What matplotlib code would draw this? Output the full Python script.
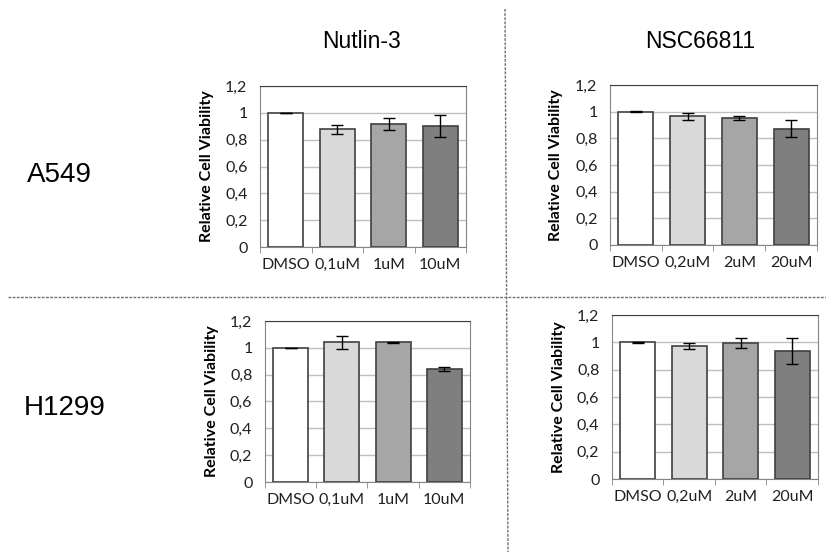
import numpy as np
import matplotlib
matplotlib.use('Agg')
from matplotlib import pyplot as plt
from matplotlib.ticker import FixedLocator, FuncFormatter
from matplotlib.lines import Line2D

# dados
labels_nutlin = ['DMSO', '0,1uM', '1uM', '10uM']
labels_nsc = ['DMSO', '0,2uM', '2uM', '20uM']

a549_nutlin = [1.0, 0.876, 0.915, 0.903]
a549_nutlin_err = [0.002, 0.034, 0.046, 0.083]
a549_nsc = [1.0, 0.965, 0.953, 0.873]
a549_nsc_err = [0.002, 0.027, 0.017, 0.067]

h1299_nutlin = [1.0, 1.04, 1.04, 0.843]
h1299_nutlin_err = [0.002, 0.046, 0.003, 0.012]
h1299_nsc = [1.0, 0.973, 0.995, 0.938]
h1299_nsc_err = [0.002, 0.02, 0.038, 0.093]

cores = ['#ffffff', '#d9d9d9', '#a6a6a6', '#7f7f7f']

plt.rcParams['font.family'] = ['Lato', 'DejaVu Sans']

fig = plt.figure(figsize=(8.26, 5.52), dpi=100)

posicoes = [
    [0.3148, 0.5525, 0.2494, 0.2917],
    [0.7385, 0.5562, 0.2506, 0.2899],
    [0.3208, 0.1268, 0.2482, 0.2917],
    [0.7409, 0.1322, 0.2494, 0.2971],
]
dados = [
    (a549_nutlin, a549_nutlin_err, labels_nutlin),
    (a549_nsc, a549_nsc_err, labels_nsc),
    (h1299_nutlin, h1299_nutlin_err, labels_nutlin),
    (h1299_nsc, h1299_nsc_err, labels_nsc),
]

def virgula(v, pos):
    return ('%g' % v).replace('.', ',')

for pos, (valores, erros, rotulos) in zip(posicoes, dados):
    ax = fig.add_axes(pos)
    x = np.arange(len(valores))
    ax.bar(x, valores, width=0.68, color=cores, edgecolor='#404040',
           linewidth=1.2, zorder=3)
    ax.errorbar(x, valores, yerr=erros, fmt='none', ecolor='black',
                elinewidth=1, capsize=4, capthick=1, zorder=4)
    ax.set_xlim(-0.5, len(valores) - 0.5)
    ax.set_ylim(0, 1.2)
    ax.set_yticks(np.arange(0, 1.21, 0.2))
    ax.yaxis.set_major_formatter(FuncFormatter(virgula))
    ax.yaxis.grid(True, color='#bfbfbf', linewidth=1, zorder=0)
    ax.set_axisbelow(True)
    ax.set_xticks(x)
    ax.set_xticklabels(rotulos)
    ax.xaxis.set_minor_locator(FixedLocator(np.arange(-0.5, len(valores), 1)))
    ax.tick_params(axis='x', which='major', length=0, pad=8, labelsize=11.5,
                   labelcolor='#202020')
    ax.tick_params(axis='x', which='minor', length=4, color='#868686', direction='out')
    ax.tick_params(axis='y', length=0, pad=9, labelsize=11.5, labelcolor='#202020')
    ax.set_ylabel('Relative Cell Viability', fontsize=11.5, fontweight='bold')
    ax.yaxis.set_label_coords(-0.225, 0.5)
    ax.spines['left'].set_color('#868686')
    ax.spines['bottom'].set_color('#868686')
    ax.spines['top'].set_color('#404040')
    ax.spines['right'].set_color('#868686')

# títulos
fig.text(362 / 826, 1 - 42 / 552, 'Nutlin-3', ha='center', va='center',
         fontsize=16.5, family='Liberation Sans')
fig.text(700 / 826, 1 - 42 / 552, 'NSC66811', ha='center', va='center',
         fontsize=16.5, family='Liberation Sans')
fig.text(59 / 826, 1 - 175 / 552, 'A549', ha='center', va='center',
         fontsize=20, family='Liberation Sans')
fig.text(65 / 826, 1 - 408 / 552, 'H1299', ha='center', va='center',
         fontsize=20, family='Liberation Sans')

# linhas divisórias tracejadas
fig.add_artist(Line2D([8 / 826, 1.0], [1 - 297 / 552, 1 - 297 / 552],
                      color='#707070', linewidth=1, linestyle=(0, (2, 1))))
fig.add_artist(Line2D([505 / 826, 508 / 826], [1 - 9 / 552, 0.0],
                      color='#707070', linewidth=1, linestyle=(0, (2, 1))))

fig.savefig('out.png', dpi=100)
